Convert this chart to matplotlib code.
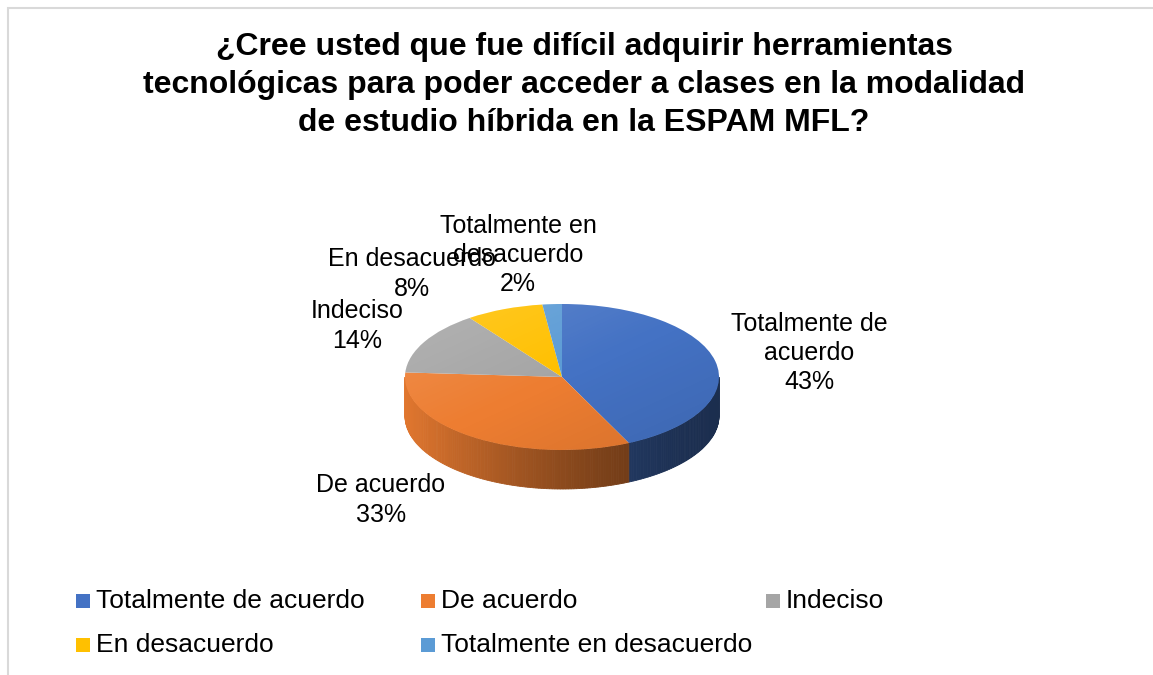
import matplotlib.pyplot as plt
import numpy as np
from matplotlib.colors import to_rgb
from matplotlib.patches import Circle, Polygon, Rectangle

plt.rcParams["font.family"] = ["Liberation Sans", "DejaVu Sans"]

TITLE = (
    "¿Cree usted que fue difícil adquirir herramientas\n"
    "tecnológicas para poder acceder a clases en la modalidad\n"
    "de estudio híbrida en la ESPAM MFL?"
)
categories = [
    "Totalmente de acuerdo",
    "De acuerdo",
    "Indeciso",
    "En desacuerdo",
    "Totalmente en desacuerdo",
]
label_names = [
    "Totalmente de\nacuerdo",
    "De acuerdo",
    "Indeciso",
    "En desacuerdo",
    "Totalmente en\ndesacuerdo",
]
percentages = [43, 33, 14, 8, 2]
colors = ["#4472C4", "#ED7D31", "#A5A5A5", "#FFC000", "#5B9BD5"]

W, H = 1153, 675
# data label centres in pixels, measured from the top-left corner
label_pos = [(809, 353), (381, 500), (357, 326), (412, 274), (518, 255)]

# pie geometry in pixels
CX, CY, RX, RY, DEPTH = 562, 377, 157, 73, 39
LIM = 1.6


def fx(px):
    return px / W


def fy(py):
    return 1 - py / H


fig = plt.figure(figsize=(W / 100, H / 100), dpi=100)

border = Rectangle((fx(8), -0.1), 1.2, fy(8) + 0.1, transform=fig.transFigure,
                   fill=False, edgecolor="#D9D9D9", linewidth=1.5)
fig.add_artist(border)

fig.text(fx(584), fy(85), TITLE, ha="center", va="center", fontsize=23,
         fontweight="bold", linespacing=1.33)

ax_w = 2 * LIM * RX
ax_h = 2 * LIM * RY
ax = fig.add_axes([fx(CX - ax_w / 2), (H - CY - ax_h / 2) / H, ax_w / W, ax_h / H])

# side wall of the cylinder, visible front half only
depth = DEPTH / RY
bounds = 90 - 360 * np.cumsum([0] + percentages) / sum(percentages)
for i, color in enumerate(colors):
    hi, lo = bounds[i], bounds[i + 1]
    a0, a1 = max(lo, -180), min(hi, 0)
    if a0 >= a1:
        continue
    steps = np.linspace(a0, a1, int((a1 - a0) / 1.0) + 2)
    base = np.array(to_rgb(color))
    for s, e in zip(steps[:-1], steps[1:]):
        ts, te = np.radians(s), np.radians(e)
        x_mid = np.cos((ts + te) / 2)
        shade = 0.4 + 0.55 * ((1 - x_mid) / 2) ** 1.5
        c = np.clip(base * shade, 0, 1)
        quad = [
            (np.cos(ts), np.sin(ts)),
            (np.cos(te), np.sin(te)),
            (np.cos(te), np.sin(te) - depth),
            (np.cos(ts), np.sin(ts) - depth),
        ]
        ax.add_patch(Polygon(quad, closed=True, facecolor=c, edgecolor=c,
                             linewidth=0.6, zorder=1))

wedges, _ = ax.pie(percentages, colors=colors, startangle=90, counterclock=False,
                   radius=1, wedgeprops=dict(linewidth=0))
for w in wedges:
    w.set_zorder(2)

# soft light from the upper left on the top face
gx, gy = np.meshgrid(np.linspace(-1, 1, 200), np.linspace(1, -1, 200))
t = np.clip((gy - gx) / 2, -1, 1)
light = np.zeros((200, 200, 4))
light[..., :3] = np.where(t[..., None] > 0, 1.0, 0.0)
light[..., 3] = np.where(t > 0, 0.16 * t, 0.10 * -t)
img = ax.imshow(light, extent=(-1, 1, -1, 1), aspect="auto", zorder=3,
                interpolation="bilinear")
img.set_clip_path(Circle((0, 0), 1, transform=ax.transData))

ax.set_aspect("auto")
ax.set_xlim(-LIM, LIM)
ax.set_ylim(-LIM, LIM)
ax.axis("off")

for name, pct, (px, py) in zip(label_names, percentages, label_pos):
    fig.text(fx(px), fy(py), f"{name}\n{pct}%", ha="center", va="center",
             fontsize=18, linespacing=1.27, color="#000000")

# legend, laid out in rows of three like the original
for i, (name, color) in enumerate(zip(categories, colors)):
    row, col = divmod(i, 3)
    mx = 76 + 345 * col
    my = 601 + 44 * row
    fig.add_artist(Rectangle((fx(mx), fy(my + 7)), 14 / W, 14 / H,
                             transform=fig.transFigure, facecolor=color,
                             edgecolor="none"))
    fig.text(fx(mx + 20), fy(my), name, ha="left", va="center", fontsize=19)

fig.savefig("out.png", dpi=100)
